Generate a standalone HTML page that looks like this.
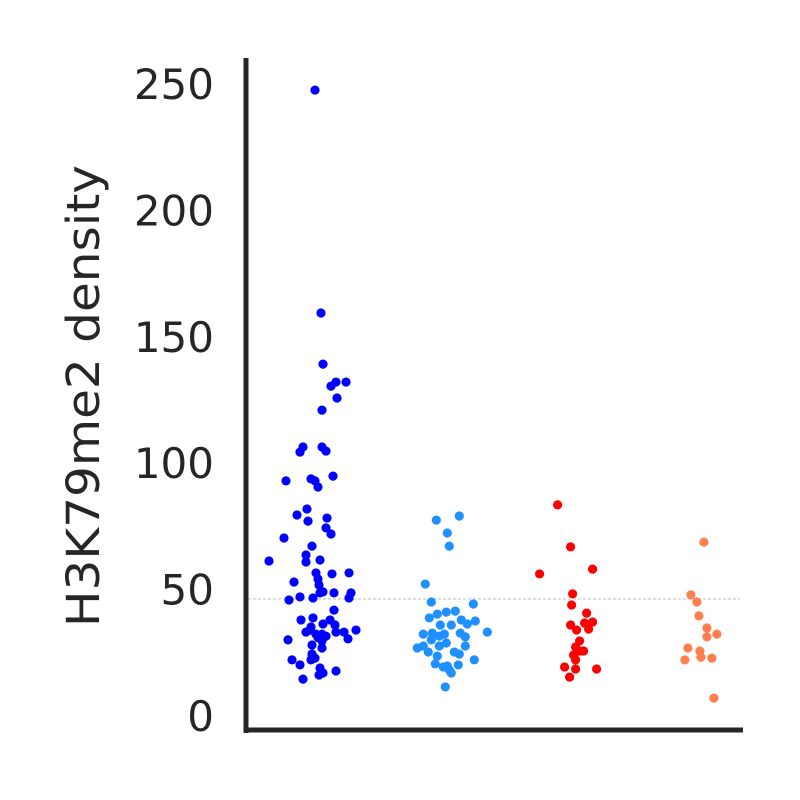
<!DOCTYPE html>
<html><head><meta charset="utf-8"><style>
html,body{margin:0;padding:0;background:#fff;}
svg{display:block;font-family:"DejaVu Sans","Liberation Sans",sans-serif;}
</style></head><body>
<svg id="chart" width="800" height="800" viewBox="0 0 800 800">
<g id="ticks"></g>
<text transform="translate(99,396) rotate(-90)" text-anchor="middle" font-size="45" fill="#262626" textLength="462" lengthAdjust="spacingAndGlyphs">H3K79me2 density</text>
<line id="refline" stroke="#bdbdbd" stroke-width="1" stroke-dasharray="3,2"/>
<g id="points"></g>
<line x1="246" y1="58" x2="246" y2="733" stroke="#262626" stroke-width="5"/>
<line x1="243.5" y1="730" x2="743" y2="730" stroke="#262626" stroke-width="5"/>
</svg>
<script>
const categories = ["group1","group2","group3","group4"];
const colors = ["#0000ff","#1e90ff","#ff0000","#ff7f50"];
const yTicks = [0,50,100,150,200,250];
const refValue = 46.3;
const values1 = [247.6,159.4,139.2,132.1,130.5,132.1,125.8,121.0,104.4,106.4,106.4,104.8,93.0,93.8,94.9,90.6,93.0,79.5,81.9,78.3,77.1,74.4,72.0,70.4,67.2,63.7,60.9,61.7,61.3,56.6,56.2,56.6,53.0,54.2,51.8,47.1,46.7,48.7,49.1,48.7,48.7,46.7,45.9,41.9,38.0,38.8,38.0,35.2,36.4,36.0,33.2,32.4,32.4,33.2,33.2,34.0,30.1,28.1,29.7,30.5,24.5,26.9,22.2,22.9,22.2,20.2,19.0,17.8,14.6,16.2,17.0,34.0,31.0,31.6];
const jitter1 = [-3,3,5,18,13,28,19,4,-18,-15,4,8,-32,-7,15,0,-3,-21,-11,9,-10,8,13,-34,-6,-12,-12,2,-49,-2,14,31,-24,0,1,-18,-5,2,5,16,33,31,-29,16,-17,-5,12,-7,5,17,-12,-2,4,18,26,38,-30,-6,4,30,-6,4,-7,-3,-26,-18,2,18,-15,1,5,-8,0,8];
const values2 = [77.5,79.1,72.4,67.2,52.2,45.1,44.3,38.8,41.1,41.5,40.3,38.0,37.6,36.4,36.0,32.8,36.0,32.4,32.4,32.8,30.1,31.6,31.3,33.2,27.7,25.3,27.7,28.9,25.3,27.7,22.2,20.6,19.8,20.2,19.4,24.5,18.2,17.0,11.5,26.9,23.7];
const jitter2 = [-10,13,1,3,-21,-15,27,-17,0,9,-9,15,29,21,-6,-14,5,-23,-2,14,-15,-7,19,41,-23,-18,-7,0,8,19,28,-11,1,12,-3,13,3,5,-1,-29,-9];
const values3 = [83.5,66.9,56.2,58.1,48.3,43.9,40.7,36.0,34.0,36.8,37.2,34.4,29.7,25.7,22.2,25.7,24.1,19.4,18.6,15.4,18.6,27.3];
const jitter3 = [-17,-4,-35,18,-2,-3,12,-4,2,10,18,14,5,5,1,9,-1,-10,1,-5,22,1];
const values4 = [68.8,47.9,45.1,39.6,34.8,31.3,32.4,26.9,25.7,23.3,22.2,22.9,7.1];
const jitter4 = [1,-12,-6,-4,4,4,14,-15,-3,-2,-18,9,11];
const seriesValues = [values1,values2,values3,values4];
const seriesJitter = [jitter1,jitter2,jitter3,jitter4];

const NS="http://www.w3.org/2000/svg";
const yScale = v => 716 - v*2.528;
const xScale = i => 318 + i*128.3;
const tg=document.getElementById('ticks');
yTicks.forEach(t=>{
  const tx=document.createElementNS(NS,'text');
  tx.setAttribute('x',214);tx.setAttribute('y',yScale(t)+15);
  tx.setAttribute('text-anchor','end');tx.setAttribute('font-size','42');tx.setAttribute('fill','#262626');
  tx.textContent=t;
  
  
  tg.appendChild(tx);
});
const rl=document.getElementById('refline');
rl.setAttribute('x1',248);rl.setAttribute('x2',740);
rl.setAttribute('y1',yScale(refValue));rl.setAttribute('y2',yScale(refValue));
const pg=document.getElementById('points');
seriesValues.forEach((vals,si)=>{
  vals.forEach((v,j)=>{
    const c=document.createElementNS(NS,'circle');
    c.setAttribute('cx',xScale(si)+(seriesJitter[si][j]||0));
    c.setAttribute('cy',yScale(v));
    c.setAttribute('r',4.6);
    c.setAttribute('fill',colors[si]);
    
    
    pg.appendChild(c);
  });
});
</script>
</body></html>
